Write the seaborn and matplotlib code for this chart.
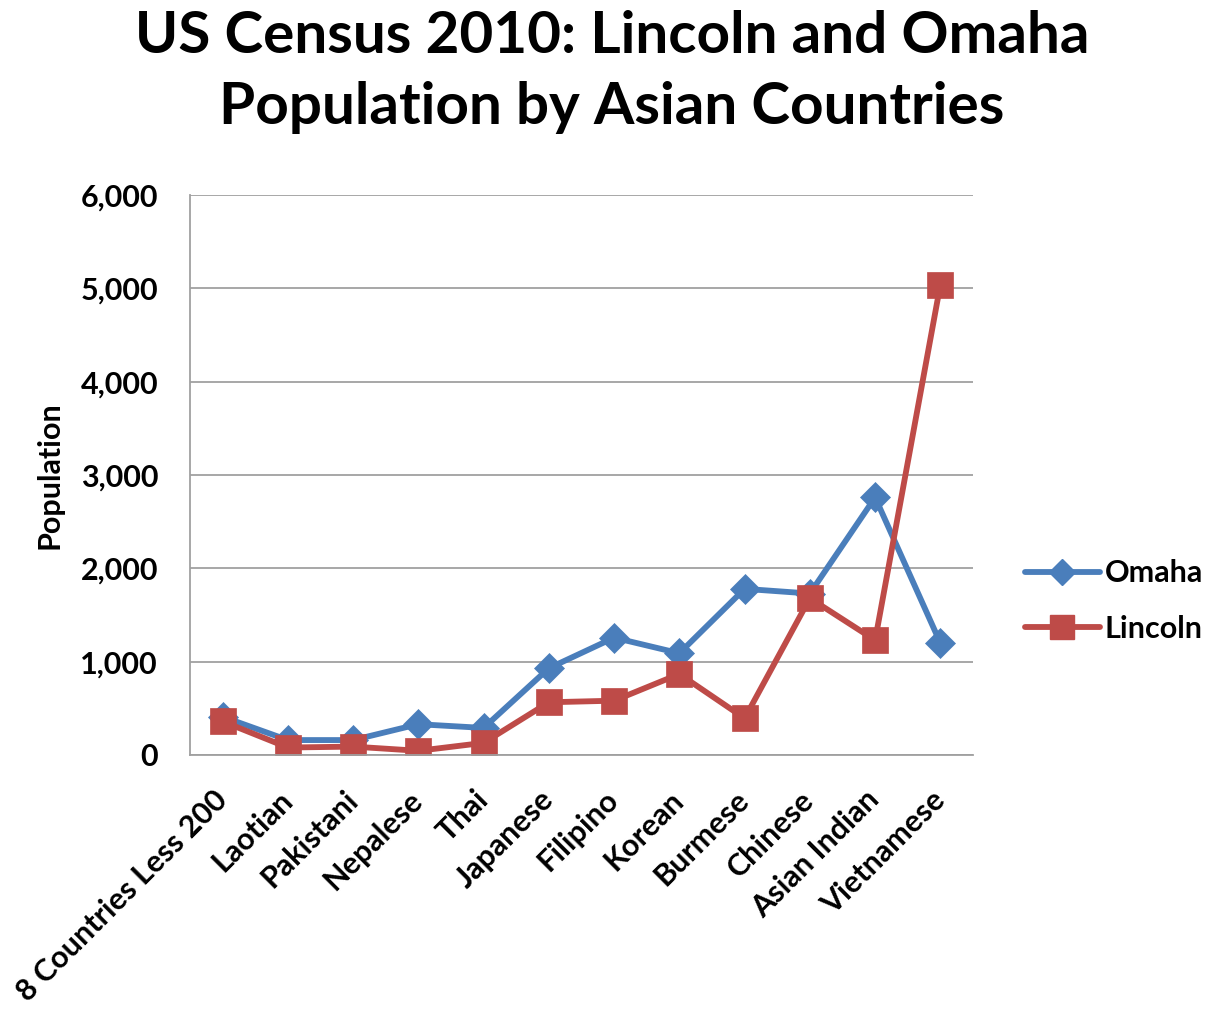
import matplotlib
matplotlib.use("Agg")
import matplotlib.pyplot as plt
import seaborn as sns
import pandas as pd
from matplotlib.lines import Line2D

categories = ["8 Countries Less 200", "Laotian", "Pakistani", "Nepalese", "Thai",
              "Japanese", "Filipino", "Korean", "Burmese", "Chinese",
              "Asian Indian", "Vietnamese"]
omaha = [410, 160, 160, 330, 290, 930, 1257, 1090, 1780, 1730, 2760, 1200]
lincoln = [360, 80, 90, 45, 130, 565, 582, 868, 393, 1680, 1230, 5040]
y_ticks = [0, 1000, 2000, 3000, 4000, 5000, 6000]
y_tick_labels = ["0", "1,000", "2,000", "3,000", "4,000", "5,000", "6,000"]

df = pd.DataFrame({
    "Country": categories * 2,
    "Population": omaha + lincoln,
    "City": ["Omaha"] * len(categories) + ["Lincoln"] * len(categories),
})

sns.set_style("white")
FONT = ["Lato", "DejaVu Sans"]
plt.rcParams["font.family"] = FONT
plt.rcParams["text.color"] = "black"

colors = {"Omaha": "#4A7EBB", "Lincoln": "#BE4B48"}
markers = {"Omaha": "D", "Lincoln": "s"}
msize = {"Omaha": 15, "Lincoln": 19}
LW = 4.2
FS = 22

fig = plt.figure(figsize=(12.2, 10.16), dpi=100)
ax = fig.add_axes([190/1220, 1-755/1016, (973-190)/1220, (755-195)/1016])

for city in ["Omaha", "Lincoln"]:
    sub = df[df["City"] == city]
    sns.lineplot(data=sub, x="Country", y="Population", ax=ax, color=colors[city],
                 marker=markers[city], markersize=msize[city],
                 markeredgewidth=0.5, markeredgecolor=colors[city],
                 linewidth=LW, sort=False, label=city, legend=False)

ax.set_xlim(-0.5, len(categories) - 0.5)
ax.set_ylim(0, 6000)
ax.set_yticks(y_ticks)
ax.set_yticklabels(y_tick_labels, fontsize=FS, fontweight="bold", color="black")
ax.set_xticks(range(len(categories)))
ax.set_xticklabels(categories, rotation=45, ha="right", va="center",
                   rotation_mode="anchor", fontsize=FS, fontweight="bold", color="black")
ax.tick_params(axis="x", length=0, pad=29)
ax.tick_params(axis="y", length=0, pad=23)
ax.grid(axis="y", color="#A0A0A0", linewidth=1.3)
ax.set_axisbelow(True)
for s in ["top", "right"]:
    ax.spines[s].set_visible(False)
for s in ["left", "bottom"]:
    ax.spines[s].set_color("#A0A0A0")
    ax.spines[s].set_linewidth(1.3)
ax.set_xlabel("")
ax.set_ylabel("Population", fontsize=FS, fontweight="bold", labelpad=12, color="black")

fig.suptitle("US Census 2010: Lincoln and Omaha\nPopulation by Asian Countries",
             x=612/1220, y=1-10/1016, fontsize=42, fontweight="bold",
             va="top", linespacing=1.42, color="black")

handles = [Line2D([0], [0], color=colors[c], marker=markers[c], linewidth=LW,
                  markersize=msize[c] - 2) for c in ["Omaha", "Lincoln"]]
fig.legend(handles, ["Omaha", "Lincoln"], loc="center left",
           bbox_to_anchor=(1025/1220, 1-601/1016), frameon=False,
           borderpad=0, borderaxespad=0,
           prop={"size": FS, "weight": "bold", "family": FONT},
           handlelength=2.45, handletextpad=0.15, labelspacing=0.9)

fig.savefig("out.png", dpi=100)
